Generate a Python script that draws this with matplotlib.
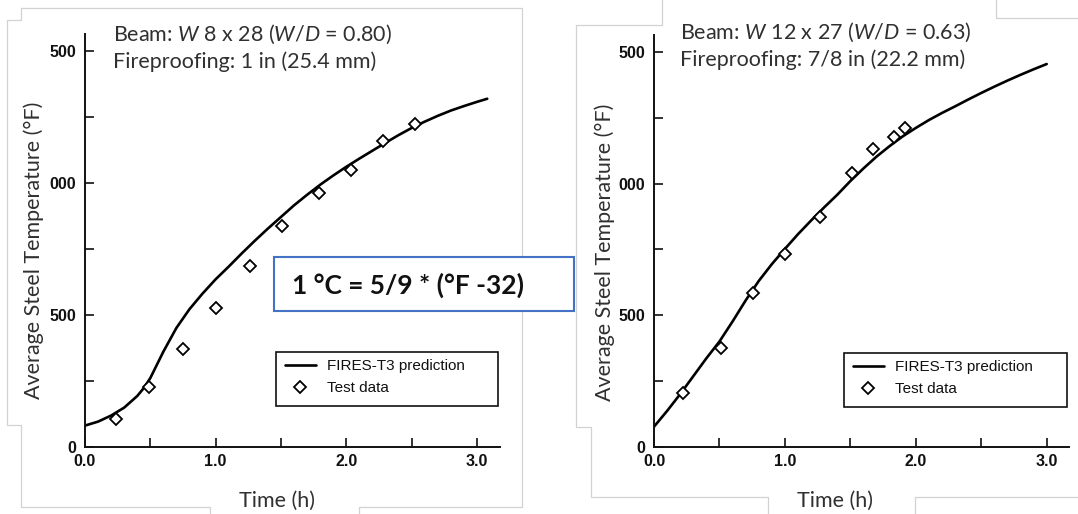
import matplotlib
matplotlib.use("Agg")
import matplotlib.pyplot as plt
from matplotlib.patches import Rectangle
from matplotlib.lines import Line2D

# ---------------- data ----------------
left_curve_t = [0.0, 0.1, 0.2, 0.3, 0.4, 0.45, 0.5, 0.55, 0.6, 0.7, 0.8, 0.9, 1.0,
                1.1, 1.2, 1.3, 1.4, 1.5, 1.6, 1.7, 1.8, 1.9, 2.0, 2.1, 2.2, 2.3,
                2.4, 2.5, 2.6, 2.7, 2.8, 2.9, 3.0, 3.08]
left_curve_T = [80, 95, 118, 148, 192, 222, 260, 310, 360, 450, 521, 580, 634,
                682, 732, 780, 826, 870, 914, 954, 992, 1027, 1060, 1091, 1121, 1151,
                1180, 1207, 1231, 1253, 1273, 1290, 1306, 1318]
left_test_t = [0.24, 0.49, 0.75, 1.00, 1.26, 1.51, 1.79, 2.04, 2.28, 2.53]
left_test_T = [104, 225, 369, 524, 686, 837, 962, 1048, 1158, 1222]

right_curve_t = [0.0, 0.1, 0.2, 0.3, 0.4, 0.5, 0.6, 0.7, 0.8, 0.9, 1.0, 1.1, 1.2,
                 1.3, 1.4, 1.5, 1.6, 1.7, 1.8, 1.9, 2.0, 2.1, 2.2, 2.3, 2.4, 2.5,
                 2.6, 2.7, 2.8, 2.9, 3.0]
right_curve_T = [76, 136, 200, 268, 336, 400, 476, 556, 630, 694, 752, 808, 860,
                 910, 958, 1010, 1058, 1103, 1143, 1180, 1212, 1242, 1269, 1294, 1320, 1345,
                 1369, 1392, 1414, 1435, 1455]
right_test_t = [0.22, 0.51, 0.76, 1.00, 1.27, 1.51, 1.67, 1.83, 1.92]
right_test_T = [205, 374, 583, 733, 875, 1042, 1132, 1176, 1210]

x_ticks = [0.0, 0.5, 1.0, 1.5, 2.0, 2.5, 3.0]
x_tick_labels = ["0.0", "", "1.0", "", "2.0", "", "3.0"]
y_ticks = [0, 250, 500, 750, 1000, 1250, 1500]
# leading digits are hidden behind the y-label box in the reference image
y_tick_labels = ["0", "", "500", "", "000", "", "500"]

left_title = ["Beam: $\\mathit{W}$ 8 x 28 ($\\mathit{W/D}$ = 0.80)",
              "Fireproofing: 1 in (25.4 mm)"]
right_title = ["Beam: $\\mathit{W}$ 12 x 27 ($\\mathit{W/D}$ = 0.63)",
               "Fireproofing: 7/8 in (22.2 mm)"]
ylabel_text = "Average Steel Temperature (°F)"
xlabel_text = "Time (h)"
legend_labels = ["FIRES-T3 prediction", "Test data"]
formula_text = "1 °C = 5/9 * (°F -32)"

# ---------------- style ----------------
plt.rcParams["mathtext.fontset"] = "custom"
plt.rcParams["mathtext.rm"] = "Lato"
plt.rcParams["mathtext.it"] = "Lato:italic"
plt.rcParams["mathtext.bf"] = "Lato:bold"

W, H = 1078, 514
fig = plt.figure(figsize=(W / 100, H / 100), dpi=100)


def fx(x):
    return x / W


def fy(y):
    return 1 - y / H


TXT = "#303030"
TITLE_SIZE = 15.5


def make_axes(rect, xmax, ymax, ct, cT, tt, tT, legend_xy, legend_box):
    ax = fig.add_axes(rect)
    ax.set_xlim(0, xmax)
    ax.set_ylim(0, ymax)
    for s in ("top", "right"):
        ax.spines[s].set_visible(False)
    for s in ("left", "bottom"):
        ax.spines[s].set_linewidth(1.4)
        ax.spines[s].set_color("#111111")
    ax.set_xticks(x_ticks, labels=x_tick_labels)
    ax.set_yticks(y_ticks, labels=y_tick_labels)
    ax.tick_params(direction="in", length=6.5, width=1.2, color="#111111")
    ax.tick_params(axis="x", pad=5)
    ax.tick_params(axis="y", pad=6.5)
    for lab in ax.get_xticklabels() + ax.get_yticklabels():
        lab.set_fontfamily("Liberation Sans")
        lab.set_fontweight("bold")
        lab.set_fontsize(11.5)
        lab.set_color("#111111")
    ax.patch.set_alpha(0)
    l1, = ax.plot(ct, cT, color="black", lw=1.9, solid_capstyle="round",
                  solid_joinstyle="round")
    l2, = ax.plot(tt, tT, linestyle="none", marker="D", ms=6.6, mfc="white",
                  mec="black", mew=1.3, clip_on=False)
    leg = ax.legend([l1, l2], legend_labels, loc="upper left",
                    bbox_to_anchor=(fx(legend_xy[0]), fy(legend_xy[1])),
                    bbox_transform=fig.transFigure, frameon=False,
                    borderpad=0, borderaxespad=0, handlelength=2.0,
                    handletextpad=0.75, labelspacing=0.55, numpoints=1,
                    prop=dict(family="Liberation Sans", size=11))
    for t in leg.get_texts():
        t.set_color("#111111")
    x0, y0, x1, y1 = legend_box
    fig.add_artist(Rectangle((fx(x0), fy(y1)), fx(x1 - x0), (y1 - y0) / H,
                             transform=fig.transFigure, fill=False,
                             edgecolor="#111111", lw=1.2, zorder=2))
    return ax


# left panel: x=0 at px 85, 130.6 px/h; y=0 at px 446.7, 132 px / 500
axL = make_axes([fx(85), fy(446.7), 3.18 * 130.6 / W, 1563 / 500 * 132 / H],
                3.18, 1563, left_curve_t, left_curve_T, left_test_t, left_test_T,
                (285, 359), (276, 352, 498, 406))
axR = make_axes([fx(654), fy(446.7), 3.17 * 130.9 / W, 1565 / 500 * 131.5 / H],
                3.17, 1565, right_curve_t, right_curve_T, right_test_t, right_test_T,
                (853, 360), (844, 353, 1067, 407))

# scanned-page borders (light grey)
border_paths = [
    [(21, 8), (522, 8), (522, 507), (359, 507), (359, 514)],
    [(21, 8), (21, 20), (7, 20), (7, 425), (21, 425), (21, 507), (210, 507), (210, 514)],
    [(662, 0), (662, 25), (576, 25), (576, 427), (591, 427), (591, 497), (768, 497), (768, 514)],
    [(915, 514), (915, 497), (1078, 497)],
    [(996, 0), (996, 18), (1078, 18)],
]
for path in border_paths:
    xs = [fx(p[0]) for p in path]
    ys = [fy(p[1]) for p in path]
    fig.add_artist(Line2D(xs, ys, transform=fig.transFigure, color="#d2d2d2",
                          lw=0.9, zorder=1))

# titles
for (x, ys, lines) in [(113, (34, 62), left_title), (680, (32, 60), right_title)]:
    for y, s in zip(ys, lines):
        fig.text(fx(x), fy(y), s, ha="left", va="center", family="Lato",
                 size=TITLE_SIZE, color=TXT, zorder=4)

# axis labels
for x, y in [(34, 250), (605, 252)]:
    fig.text(fx(x), fy(y), ylabel_text, rotation=90, ha="center", va="center",
             family="Lato", size=TITLE_SIZE, color=TXT, zorder=4)
for x in (277, 835):
    fig.text(fx(x), fy(501), xlabel_text, ha="center", va="center",
             family="Lato", size=TITLE_SIZE, color=TXT, zorder=4)

# conversion box
fig.add_artist(Rectangle((fx(274), fy(311)), 300 / W, 54 / H, transform=fig.transFigure,
                         facecolor="white", edgecolor="#4472C4", lw=1.5, zorder=5))
fig.text(fx(292), fy(285), formula_text, ha="left", va="center", family="Lato",
         weight="bold", size=19, color="#111111", zorder=6)

fig.savefig("out.png", dpi=100)
